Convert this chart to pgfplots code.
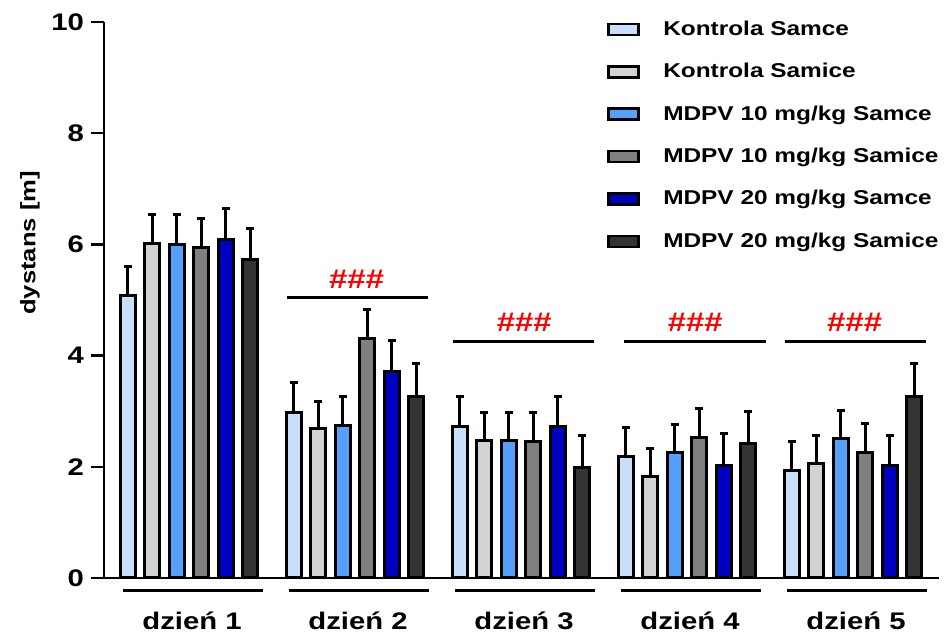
\documentclass[border=0pt]{standalone}
\usepackage{fontspec}
\setmainfont{Liberation Sans}[FakeStretch=1.22]
\usepackage{pgfplots}
\pgfplotsset{compat=1.18}
\definecolor{c1}{RGB}{200,222,250}
\definecolor{c2}{RGB}{211,211,211}
\definecolor{c3}{RGB}{85,160,250}
\definecolor{c4}{RGB}{128,128,128}
\definecolor{c5}{RGB}{0,0,192}
\definecolor{c6}{RGB}{51,51,51}
\begin{document}
\begin{tikzpicture}
\begin{axis}[
  scale only axis, width=417.5pt, height=278pt,
  xmin=-0.512, xmax=4.518, ymin=0, ymax=10,
  axis lines*=left,
  axis line style={line width=1.2pt},
  ytick={0,2,4,6,8,10},
  ytick style={line width=1.2pt, black},
  tick align=outside, major tick length=6.5pt,
  xtick={0,1,2,3,4},
  xticklabels={dzień 1,dzień 2,dzień 3,dzień 4,dzień 5},
  xtick style={draw=none},
  xticklabel style={yshift=-7pt, xshift=1.5pt},
  tick label style={font=\bfseries\fontsize{12}{14}\selectfont},
  /pgf/number format/assume math mode=true,
  ylabel={dystans [m]},
  ylabel style={font=\bfseries\fontsize{10.5}{12}\selectfont, at={(axis description cs:-0.0886,0.6025)}, anchor=center},
  ybar, bar width=7.5pt,
  clip=false,
  every axis plot/.append style={draw=black, line width=1.5pt},
  error bars/y dir=plus, error bars/y explicit,
  error bars/error mark=-,
  error bars/error bar style={line width=1.5pt, black},
  error bars/error mark options={rotate=90, line width=1.5pt, black, mark size=1.9pt},
  legend image code/.code={\draw[#1, line width=1.3pt] (0pt,-2.75pt) rectangle (15pt,2.75pt); \path (26.5pt,0pt);},
  legend cell align=left,
  legend style={at={(axis description cs:0.6025,1.0054)}, anchor=north west, draw=none, fill=none,
    inner sep=0pt, row sep=11.2pt, column sep=0pt, font=\bfseries\fontsize{10}{12}\selectfont,
    nodes={inner sep=0pt, text height=8pt, text depth=2pt}},
]
\addplot[fill=c1, bar shift=-30.6pt] coordinates {(0,5.08) +- (0,0.53) (1,2.97) +- (0,0.54) (2,2.73) +- (0,0.53) (3,2.18) +- (0,0.52) (4,1.94) +- (0,0.51)};
\addplot[fill=c2, bar shift=-18.4pt] coordinates {(0,6.02) +- (0,0.51) (1,2.68) +- (0,0.50) (2,2.47) +- (0,0.50) (3,1.82) +- (0,0.50) (4,2.06) +- (0,0.50)};
\addplot[fill=c3, bar shift=-6.1pt] coordinates {(0,6.00) +- (0,0.53) (1,2.75) +- (0,0.51) (2,2.47) +- (0,0.50) (3,2.25) +- (0,0.51) (4,2.50) +- (0,0.51)};
\addplot[fill=c4, bar shift=6.1pt] coordinates {(0,5.95) +- (0,0.52) (1,4.30) +- (0,0.52) (2,2.45) +- (0,0.52) (3,2.52) +- (0,0.53) (4,2.25) +- (0,0.53)};
\addplot[fill=c5, bar shift=18.4pt] coordinates {(0,6.08) +- (0,0.57) (1,3.72) +- (0,0.56) (2,2.72) +- (0,0.54) (3,2.03) +- (0,0.56) (4,2.02) +- (0,0.55)};
\addplot[fill=c6, bar shift=30.6pt] coordinates {(0,5.72) +- (0,0.56) (1,3.26) +- (0,0.59) (2,1.98) +- (0,0.58) (3,2.41) +- (0,0.58) (4,3.27) +- (0,0.59)};
\legend{Kontrola Samce, Kontrola Samice, MDPV 10 mg/kg Samce, MDPV 10 mg/kg Samice, MDPV 20 mg/kg Samce, MDPV 20 mg/kg Samice}
% group underlines
\draw[line width=1.5pt] (axis cs:-0.398,-0.234) -- (axis cs:0.446,-0.234);
\draw[line width=1.5pt] (axis cs:0.602,-0.234) -- (axis cs:1.446,-0.234);
\draw[line width=1.5pt] (axis cs:1.602,-0.234) -- (axis cs:2.446,-0.234);
\draw[line width=1.5pt] (axis cs:2.602,-0.234) -- (axis cs:3.446,-0.234);
\draw[line width=1.5pt] (axis cs:3.602,-0.234) -- (axis cs:4.446,-0.234);
% significance lines
\draw[line width=1.5pt] (axis cs:0.59,5.04) -- (axis cs:1.44,5.04);
\draw[line width=1.5pt] (axis cs:1.59,4.25) -- (axis cs:2.44,4.25);
\draw[line width=1.5pt] (axis cs:2.62,4.25) -- (axis cs:3.476,4.25);
\draw[line width=1.5pt] (axis cs:3.59,4.25) -- (axis cs:4.44,4.25);
\node[text=red, font=\bfseries\fontsize{13.5}{14}\selectfont] at (axis cs:1.01,5.37) {\#\#\#};
\node[text=red, font=\bfseries\fontsize{13.5}{14}\selectfont] at (axis cs:2.02,4.59) {\#\#\#};
\node[text=red, font=\bfseries\fontsize{13.5}{14}\selectfont] at (axis cs:3.05,4.59) {\#\#\#};
\node[text=red, font=\bfseries\fontsize{13.5}{14}\selectfont] at (axis cs:4.01,4.59) {\#\#\#};
\end{axis}
\pgfresetboundingbox
\path ([shift={(-52pt,-28.5pt)}]current axis.south west) rectangle ([shift={(4.5pt,11pt)}]current axis.north east);
\end{tikzpicture}
\end{document}
